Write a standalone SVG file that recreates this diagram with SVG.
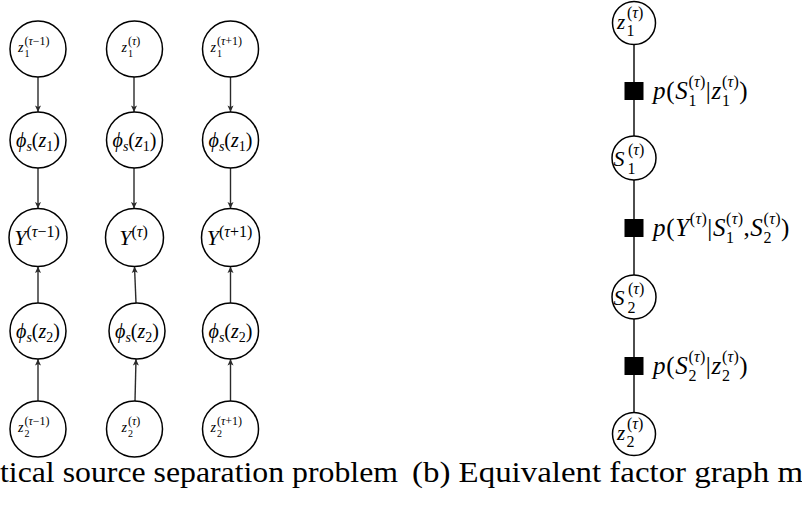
<svg xmlns="http://www.w3.org/2000/svg" width="802" height="505" viewBox="0 0 802 505">
  <style>
    text { font-family: "Liberation Serif", "DejaVu Serif", serif; fill: #000; }
    .it { font-style: italic; }
    .node { fill: #fff; stroke: #000; stroke-width: 1.5; }
    .arr { stroke: #2a2a2a; stroke-width: 1.4; fill: none; marker-end: url(#tip); }
    .edge { stroke: #000; stroke-width: 1.4; fill: none; }
    .factor { fill: #000; }
    .cap { font-size: 29px; }
    .lbl { font-size: 25px; letter-spacing: 0.7px; }
    .ss { font-size: 16px; letter-spacing: 0.3px; }
    .zb { font-size: 14px; }
    .zsub { font-size: 10px; }
    .zsup { font-size: 12px; }
    .rz { font-size: 21px; }
    .rs { font-size: 16px; }
  </style>
  <defs>
    <marker id="tip" markerUnits="userSpaceOnUse" markerWidth="8" markerHeight="8" viewBox="0 0 8 8" refX="7" refY="4" orient="auto">
      <path d="M0.5,1 L7,4 L0.5,7 L2,4 z" fill="#2a2a2a"/>
    </marker>
  </defs>

  <!-- directed model: connectors -->
  <g id="edges-a">
    <line class="arr" x1="38" y1="77" x2="38" y2="112"/>
    <line class="arr" x1="134" y1="77" x2="134" y2="112"/>
    <line class="arr" x1="230.5" y1="77" x2="230.5" y2="112"/>
    <line class="arr" x1="38" y1="168" x2="38" y2="208.5"/>
    <line class="arr" x1="134" y1="168" x2="134" y2="208.5"/>
    <line class="arr" x1="230.5" y1="168" x2="230.5" y2="208.5"/>
    <line class="arr" x1="38" y1="303" x2="38" y2="266.5"/>
    <line class="arr" x1="136" y1="303" x2="134.5" y2="266.5"/>
    <line class="arr" x1="230.5" y1="303" x2="230.5" y2="266.5"/>
    <line class="arr" x1="38" y1="401" x2="38" y2="359"/>
    <line class="arr" x1="135" y1="401" x2="136" y2="359"/>
    <line class="arr" x1="230.5" y1="401" x2="230.5" y2="359"/>
  </g>

  <!-- column tau-1 -->
  <g id="z1-tm1">
    <circle class="node" cx="38" cy="49" r="28"/>
    <text class="it zb" x="18" y="52">z</text>
    <text class="zsub" x="24.5" y="57">1</text>
    <text class="zsup" x="24.5" y="45">(<tspan class="it">τ</tspan>−1)</text>
  </g>
  <g id="phi1-tm1">
    <circle class="node" cx="38" cy="140" r="28"/>
    <text x="38" y="147" font-size="20" text-anchor="middle"><tspan class="it">ϕ</tspan><tspan class="it" font-size="14" dy="4">s</tspan><tspan dy="-4">(</tspan><tspan class="it">z</tspan><tspan font-size="14" dy="4">1</tspan><tspan dy="-4">)</tspan></text>
  </g>
  <g id="y-tm1">
    <circle class="node" cx="38" cy="237.5" r="29"/>
    <text x="37" y="245" font-size="22" text-anchor="middle"><tspan class="it">Y</tspan><tspan font-size="16" dy="-8">(<tspan class="it">τ</tspan>−1)</tspan></text>
  </g>
  <g id="phi2-tm1">
    <circle class="node" cx="38" cy="331" r="28"/>
    <text x="38" y="338" font-size="20" text-anchor="middle"><tspan class="it">ϕ</tspan><tspan class="it" font-size="14" dy="4">s</tspan><tspan dy="-4">(</tspan><tspan class="it">z</tspan><tspan font-size="14" dy="4">2</tspan><tspan dy="-4">)</tspan></text>
  </g>
  <g id="z2-tm1">
    <circle class="node" cx="38" cy="429" r="28"/>
    <text class="it zb" x="18" y="432">z</text>
    <text class="zsub" x="24.5" y="437">2</text>
    <text class="zsup" x="24.5" y="425">(<tspan class="it">τ</tspan>−1)</text>
  </g>

  <!-- column tau -->
  <g id="z1-t">
    <circle class="node" cx="134.5" cy="49" r="28"/>
    <text class="it zb" x="121.5" y="52">z</text>
    <text class="zsub" x="128" y="57">1</text>
    <text class="zsup" x="128" y="45">(<tspan class="it">τ</tspan>)</text>
  </g>
  <g id="phi1-t">
    <circle class="node" cx="134.5" cy="140" r="28"/>
    <text x="134.5" y="147" font-size="20" text-anchor="middle"><tspan class="it">ϕ</tspan><tspan class="it" font-size="14" dy="4">s</tspan><tspan dy="-4">(</tspan><tspan class="it">z</tspan><tspan font-size="14" dy="4">1</tspan><tspan dy="-4">)</tspan></text>
  </g>
  <g id="y-t">
    <circle class="node" cx="134.5" cy="237.5" r="29"/>
    <text x="133.5" y="245" font-size="22" text-anchor="middle"><tspan class="it">Y</tspan><tspan font-size="16" dy="-8">(<tspan class="it">τ</tspan>)</tspan></text>
  </g>
  <g id="phi2-t">
    <circle class="node" cx="137" cy="331" r="28"/>
    <text x="137" y="338" font-size="20" text-anchor="middle"><tspan class="it">ϕ</tspan><tspan class="it" font-size="14" dy="4">s</tspan><tspan dy="-4">(</tspan><tspan class="it">z</tspan><tspan font-size="14" dy="4">2</tspan><tspan dy="-4">)</tspan></text>
  </g>
  <g id="z2-t">
    <circle class="node" cx="134.5" cy="429" r="28"/>
    <text class="it zb" x="121.5" y="432">z</text>
    <text class="zsub" x="128" y="437">2</text>
    <text class="zsup" x="128" y="425">(<tspan class="it">τ</tspan>)</text>
  </g>

  <!-- column tau+1 -->
  <g id="z1-tp1">
    <circle class="node" cx="230.5" cy="49" r="28"/>
    <text class="it zb" x="210.5" y="52">z</text>
    <text class="zsub" x="217" y="57">1</text>
    <text class="zsup" x="217" y="45">(<tspan class="it">τ</tspan>+1)</text>
  </g>
  <g id="phi1-tp1">
    <circle class="node" cx="230.5" cy="140" r="28"/>
    <text x="230.5" y="147" font-size="20" text-anchor="middle"><tspan class="it">ϕ</tspan><tspan class="it" font-size="14" dy="4">s</tspan><tspan dy="-4">(</tspan><tspan class="it">z</tspan><tspan font-size="14" dy="4">1</tspan><tspan dy="-4">)</tspan></text>
  </g>
  <g id="y-tp1">
    <circle class="node" cx="230.5" cy="237.5" r="29"/>
    <text x="229.5" y="245" font-size="22" text-anchor="middle"><tspan class="it">Y</tspan><tspan font-size="16" dy="-8">(<tspan class="it">τ</tspan>+1)</tspan></text>
  </g>
  <g id="phi2-tp1">
    <circle class="node" cx="230.5" cy="331" r="28"/>
    <text x="230.5" y="338" font-size="20" text-anchor="middle"><tspan class="it">ϕ</tspan><tspan class="it" font-size="14" dy="4">s</tspan><tspan dy="-4">(</tspan><tspan class="it">z</tspan><tspan font-size="14" dy="4">2</tspan><tspan dy="-4">)</tspan></text>
  </g>
  <g id="z2-tp1">
    <circle class="node" cx="230.5" cy="429" r="28"/>
    <text class="it zb" x="210.5" y="432">z</text>
    <text class="zsub" x="217" y="437">2</text>
    <text class="zsup" x="217" y="425">(<tspan class="it">τ</tspan>+1)</text>
  </g>

  <!-- factor graph: connectors -->
  <g id="edges-b">
    <line class="edge" x1="634" y1="44.5" x2="634" y2="136"/>
    <line class="edge" x1="634" y1="180" x2="634" y2="275"/>
    <line class="edge" x1="634" y1="319" x2="634" y2="412.5"/>
  </g>

  <g id="fz1">
    <circle class="node" cx="634" cy="23" r="21.5"/>
    <text class="it rz" x="617" y="29">z</text>
    <text class="rs" x="626.5" y="36">1</text>
    <text class="rs" x="627" y="18">(<tspan class="it">τ</tspan>)</text>
  </g>
  <g id="fs1">
    <circle class="node" cx="634" cy="158" r="22"/>
    <text class="it" x="613.5" y="166" font-size="22">S</text>
    <text class="rs" x="627.5" y="174">1</text>
    <text class="rs" x="628" y="155">(<tspan class="it">τ</tspan>)</text>
  </g>
  <g id="fs2">
    <circle class="node" cx="634" cy="297" r="22"/>
    <text class="it" x="613.5" y="305" font-size="22">S</text>
    <text class="rs" x="627.5" y="313">2</text>
    <text class="rs" x="628" y="294">(<tspan class="it">τ</tspan>)</text>
  </g>
  <g id="fz2">
    <circle class="node" cx="634" cy="434" r="21.5"/>
    <text class="it rz" x="617" y="440">z</text>
    <text class="rs" x="626.5" y="447">2</text>
    <text class="rs" x="627" y="429">(<tspan class="it">τ</tspan>)</text>
  </g>

  <!-- factor nodes with their conditional labels (stacked sub/superscripts) -->
  <g id="f1">
    <rect class="factor" x="624.5" y="82" width="19" height="18"/>
    <text class="lbl" x="653" y="99"><tspan class="it">p</tspan>(<tspan class="it">S</tspan><tspan class="ss" dy="7">1</tspan><tspan class="ss" dx="-8.3" dy="-19.5">(<tspan class="it">τ</tspan>)</tspan><tspan dy="12.5">|</tspan><tspan class="it">z</tspan><tspan class="ss" dy="7">1</tspan><tspan class="ss" dx="-8.3" dy="-19.5">(<tspan class="it">τ</tspan>)</tspan><tspan dy="12.5">)</tspan></text>
  </g>
  <g id="f2">
    <rect class="factor" x="624.5" y="219" width="19" height="18"/>
    <text class="lbl" x="653" y="236"><tspan class="it">p</tspan>(<tspan class="it">Y</tspan><tspan class="ss" dy="-12.5">(<tspan class="it">τ</tspan>)</tspan><tspan dy="12.5">|</tspan><tspan class="it">S</tspan><tspan class="ss" dy="7">1</tspan><tspan class="ss" dx="-8.3" dy="-19.5">(<tspan class="it">τ</tspan>)</tspan><tspan dy="12.5">,</tspan><tspan class="it">S</tspan><tspan class="ss" dy="7">2</tspan><tspan class="ss" dx="-8.3" dy="-19.5">(<tspan class="it">τ</tspan>)</tspan><tspan dy="12.5">)</tspan></text>
  </g>
  <g id="f3">
    <rect class="factor" x="624.5" y="357" width="19" height="18"/>
    <text class="lbl" x="653" y="374"><tspan class="it">p</tspan>(<tspan class="it">S</tspan><tspan class="ss" dy="7">2</tspan><tspan class="ss" dx="-8.3" dy="-19.5">(<tspan class="it">τ</tspan>)</tspan><tspan dy="12.5">|</tspan><tspan class="it">z</tspan><tspan class="ss" dy="7">2</tspan><tspan class="ss" dx="-8.3" dy="-19.5">(<tspan class="it">τ</tspan>)</tspan><tspan dy="12.5">)</tspan></text>
  </g>

  <!-- captions -->
  <text class="cap" x="0" y="482" textLength="398" lengthAdjust="spacingAndGlyphs">tical source separation problem</text>
  <text class="cap" x="412" y="482" textLength="391" lengthAdjust="spacingAndGlyphs">(b) Equivalent factor graph m</text>
</svg>
